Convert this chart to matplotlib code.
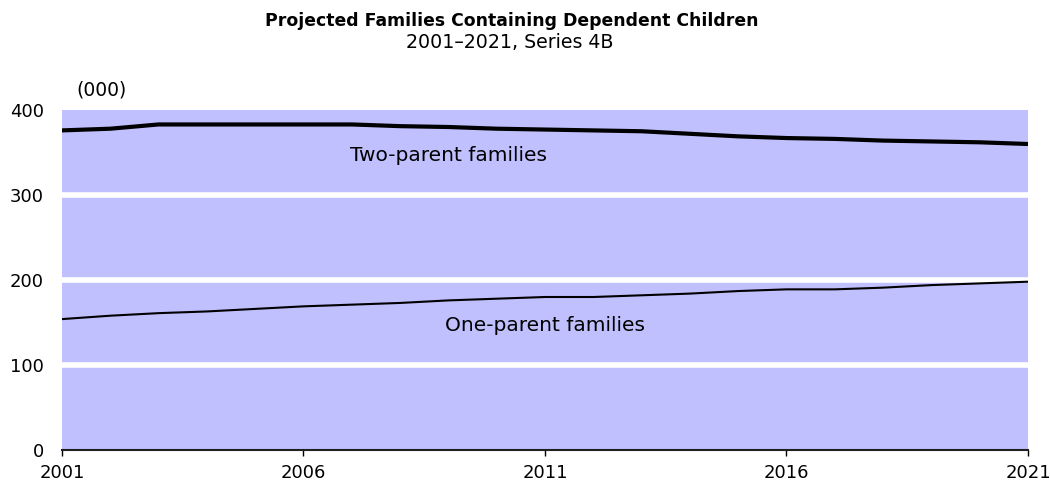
import numpy as np
import matplotlib
matplotlib.use("Agg")
from matplotlib import pyplot as plt

# projected families with dependent children, thousands
years = list(range(2001, 2022))
two_parent = [376, 378, 383, 383, 383, 383, 383, 381, 380, 378, 377,
              376, 375, 372, 369, 367, 366, 364, 363, 362, 360]
one_parent = [154, 158, 161, 163, 166, 169, 171, 173, 176, 178, 180,
              180, 182, 184, 187, 189, 189, 191, 194, 196, 198]
xticks = [2001, 2006, 2011, 2016, 2021]
yticks = [0, 100, 200, 300, 400]

plt.rcParams['font.family'] = ['DejaVu Sans']

fig = plt.figure(figsize=(10.5, 4.94), dpi=100)
ax = fig.add_axes([62 / 1050, 1 - 450 / 494, 966 / 1050, 340 / 494])

ax.set_facecolor('#c0c0ff')
ax.plot(years, two_parent, color='black', lw=3.0, solid_capstyle='butt', zorder=3)
ax.plot(years, one_parent, color='black', lw=1.5, solid_capstyle='butt', zorder=3)

# white bands between the shaded blocks
for y in yticks[1:-1]:
    ax.axhline(y, color='white', lw=4, zorder=2)

ax.set_xlim(2001, 2021)
ax.set_ylim(0, 400)
ax.set_xticks(xticks)
ax.set_yticks(yticks)
ax.tick_params(axis='x', direction='out', length=4, width=1, pad=6, labelsize=13)
ax.tick_params(axis='y', length=0, pad=13, labelsize=13)

for side in ['top', 'right', 'left']:
    ax.spines[side].set_visible(False)
ax.spines['bottom'].set_linewidth(1.5)
ax.spines['bottom'].set_color('#202020')

ax.text(2009.0, 347, 'Two-parent families', ha='center', va='center', fontsize=14.5)
ax.text(2011.0, 147, 'One-parent families', ha='center', va='center', fontsize=14.5)
ax.text(0.015, 1.06, '(000)', transform=ax.transAxes, fontsize=13.5, va='center', ha='left')

fig.text(0.487, 0.957, 'Projected Families Containing Dependent Children',
         ha='center', va='center', fontsize=12.4, fontweight='bold')
fig.text(0.485, 0.913, '2001\u20132021, Series 4B', ha='center', va='center', fontsize=13.7)

fig.savefig('out.png', dpi=100)
